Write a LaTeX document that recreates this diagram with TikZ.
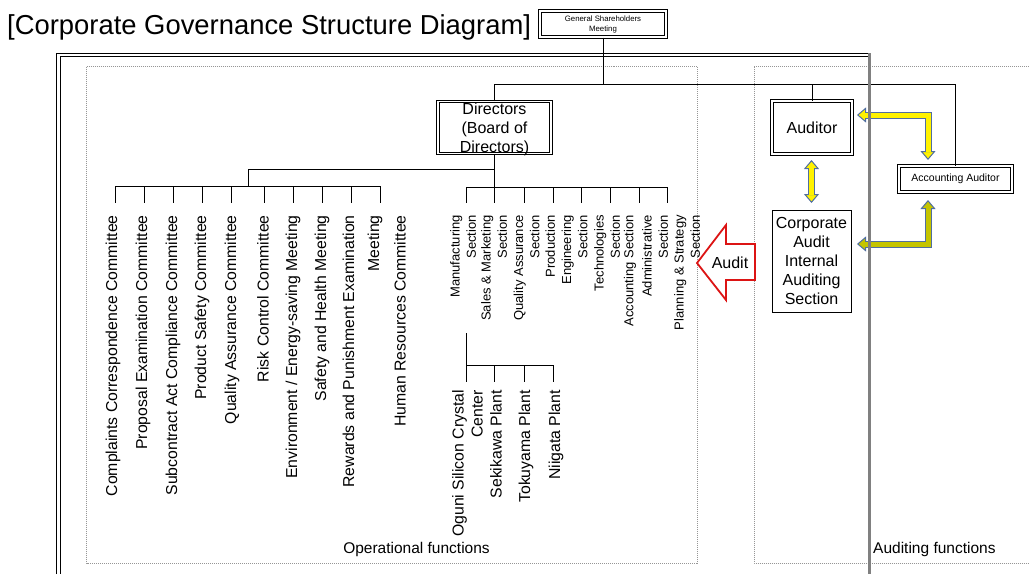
\documentclass[tikz,border=0pt]{standalone}
\usepackage{fontspec}
\setmainfont{Liberation Sans}
\usetikzlibrary{arrows.meta}
\definecolor{arrowedge}{RGB}{80,110,160}
\definecolor{olivefill}{RGB}{196,196,0}
\definecolor{framegray}{RGB}{150,150,150}
\definecolor{auditred}{RGB}{220,20,20}
\begin{document}
\begin{tikzpicture}[x=1pt, y=-1pt,
  dbox/.style={draw, double, double distance=1.5pt, line width=1pt, inner sep=0pt},
  sbox/.style={draw, line width=1pt, inner sep=0pt},
  vtxt/.style={rotate=90, anchor=east, align=right, inner sep=0pt, font=\fontsize{15.8}{19}\selectfont},
  stxt/.style={vtxt, font=\fontsize{13}{16.3}\selectfont},
  conn/.style={line width=0.8pt},
  frame/.style={densely dotted, framegray, line width=1pt},
  yarr/.style={line width=7pt, draw=arrowedge, {Triangle[width=15pt,length=9pt,fill=#1,line width=1pt]}-{Triangle[width=15pt,length=9pt,fill=#1,line width=1pt]}},
  yin/.style={line width=5pt, draw=#1, shorten <=8pt, shorten >=8pt}]
\useasboundingbox (0,0) rectangle (1029,574);
\node[anchor=west, inner sep=0pt, font=\fontsize{27.4}{31}\selectfont] (title) at (7,27) {[Corporate Governance Structure Diagram]};
\node[dbox, minimum width=126, minimum height=26, align=center, font=\fontsize{7.8}{10}\selectfont] (gsm) at (603,24) {General Shareholders\\Meeting};
\draw[double, double distance=2.3pt, line width=0.9pt] (58.5,574) -- (58.5,55) -- (869,55);
\draw[frame] (86.5,66.5) rectangle (697,563);
\draw[frame] (754,66.5) rectangle (1040,563);
\node[dbox, minimum width=113, minimum height=52] (dir) at (494.5,127.5) {};
\node[align=center, inner sep=0pt, font=\fontsize{16}{19}\selectfont] (dirtxt) at (494.5,129) {Directors\\(Board of\\Directors)};
\node[dbox, minimum width=80, minimum height=53, font=\fontsize{16}{19}\selectfont] (aud) at (812,127.5) {Auditor};
\node[sbox, minimum width=79, minimum height=102, align=center, font=\fontsize{16}{19}\selectfont] (ia) at (811.5,261) {Corporate\\Audit\\Internal\\Auditing\\Section};
\node[dbox, minimum width=113, minimum height=26, font=\fontsize{10.5}{12}\selectfont] (acc) at (955.5,179) {Accounting Auditor};
\coordinate (h1) at (494.5,84);
\coordinate (h2) at (955.5,84);
\draw[conn] (dir.north) -- (h1) -- (h2) -- (acc.north);
\draw[conn] (gsm.south) -- (gsm.south |- h1);
\draw[conn] (aud.north) -- (aud.north |- h1);
\coordinate (cj) at (494.5,169);
\coordinate (cm) at (248,169);
\coordinate (cmb) at (248,186);
\draw[conn] (cj) -- (cm) -- (cmb);
\coordinate (ctk) at (0,203);
\coordinate (cb1) at (115,186);
\coordinate (cb2) at (144,186);
\coordinate (cb3) at (173,186);
\coordinate (cb4) at (202,186);
\coordinate (cb5) at (231,186);
\coordinate (cb6) at (264,186);
\coordinate (cb7) at (293,186);
\coordinate (cb8) at (322,186);
\coordinate (cb9) at (351,186);
\coordinate (cb10) at (380,186);
\draw[conn] (cb1) -- (cb10);
\draw[conn] (cb1) -- (cb1 |- ctk);
\draw[conn] (cb2) -- (cb2 |- ctk);
\draw[conn] (cb3) -- (cb3 |- ctk);
\draw[conn] (cb4) -- (cb4 |- ctk);
\draw[conn] (cb5) -- (cb5 |- ctk);
\draw[conn] (cb6) -- (cb6 |- ctk);
\draw[conn] (cb7) -- (cb7 |- ctk);
\draw[conn] (cb8) -- (cb8 |- ctk);
\draw[conn] (cb9) -- (cb9 |- ctk);
\draw[conn] (cb10) -- (cb10 |- ctk);
\node[vtxt] (c1) at (113,215) {Complaints Correspondence Committee};
\node[vtxt] (c2) at (143,215) {Proposal Examination Committee};
\node[vtxt] (c3) at (173,215) {Subcontract Act Compliance Committee};
\node[vtxt] (c4) at (202,215) {Product Safety Committee};
\node[vtxt] (c5) at (232,215) {Quality Assurance Committee};
\node[vtxt] (c6) at (263,215) {Risk Control Committee};
\node[vtxt] (c7) at (293,215) {Environment / Energy-saving Meeting};
\node[vtxt] (c8) at (322,215) {Safety and Health Meeting};
\node[vtxt] (c9) at (362.5,215) {Rewards and Punishment Examination\\[6pt]Meeting};
\node[vtxt] (c10) at (400,215) {Human Resources Committee};
\coordinate (stk) at (0,203);
\coordinate (sb1) at (466,187);
\coordinate (sb2) at (494.5,187);
\coordinate (sb3) at (524,187);
\coordinate (sb4) at (553,187);
\coordinate (sb5) at (581,187);
\coordinate (sb6) at (610,187);
\coordinate (sb7) at (639,187);
\coordinate (sb8) at (667,187);
\draw[conn] (dir.south) -- (sb2);
\draw[conn] (sb1) -- (sb8);
\draw[conn] (sb1) -- (sb1 |- stk);
\draw[conn] (sb2) -- (sb2 |- stk);
\draw[conn] (sb3) -- (sb3 |- stk);
\draw[conn] (sb4) -- (sb4 |- stk);
\draw[conn] (sb5) -- (sb5 |- stk);
\draw[conn] (sb6) -- (sb6 |- stk);
\draw[conn] (sb7) -- (sb7 |- stk);
\draw[conn] (sb8) -- (sb8 |- stk);
\node[stxt] (s1) at (463,215) {Manufacturing\\Section};
\node[stxt] (s2) at (494,215) {Sales \& Marketing\\Section};
\node[stxt] (s3) at (526.5,215) {Quality Assurance\\Section};
\node[stxt] (s4) at (566.5,215) {Production\\Engineering\\Section};
\node[stxt] (s5) at (607,215) {Technologies\\Section};
\node[stxt] (s6) at (630,215) {Accounting Section};
\node[stxt] (s7) at (655,215) {Administrative\\Section};
\node[stxt] (s8) at (687,215) {Planning \& Strategy\\Section};
\coordinate (pv) at (466,333);
\coordinate (ptk) at (0,382);
\coordinate (pb1) at (466,365);
\coordinate (pb2) at (494,365);
\coordinate (pb3) at (524,365);
\coordinate (pb4) at (553,365);
\draw[conn] (pv) -- (pb1);
\draw[conn] (pb1) -- (pb4);
\draw[conn] (pb1) -- (pb1 |- ptk);
\draw[conn] (pb2) -- (pb2 |- ptk);
\draw[conn] (pb3) -- (pb3 |- ptk);
\draw[conn] (pb4) -- (pb4 |- ptk);
\node[vtxt] (p1) at (467.5,390) {Oguni Silicon Crystal\\Center};
\node[vtxt] (p2) at (496,390) {Sekikawa Plant};
\node[vtxt] (p3) at (526,390) {Tokuyama Plant};
\node[vtxt] (p4) at (556,390) {Niigata Plant};
\node[font=\fontsize{15.5}{18}\selectfont, inner sep=0pt] (opf) at (416.5,549) {Operational functions};
\node[anchor=west, font=\fontsize{15.5}{18}\selectfont, inner sep=0pt] (auf) at (873,549) {Auditing functions};
\draw[auditred, line width=1.8pt, fill=white, line join=miter] (755,244) -- (726,244) -- (726,225) -- (697,263) -- (726,300) -- (726,280) -- (755,280) -- cycle;
\node[font=\fontsize{16}{19}\selectfont, inner sep=0pt] (audit) at (730,263) {Audit};
\coordinate (a1) at (811.5,160);
\coordinate (a2) at (811.5,203);
\draw[yarr=yellow] (a1) -- (a2);
\draw[yin=yellow] (a1) -- (a2);
\coordinate (a3) at (857,115);
\coordinate (a4) at (928,115);
\coordinate (a5) at (928,160);
\draw[yarr=yellow] (a3) -- (a4) -- (a5);
\draw[yin=yellow] (a3) -- (a4) -- (a5);
\coordinate (a6) at (857,244);
\coordinate (a7) at (928,244);
\coordinate (a8) at (928,200);
\draw[yarr=olivefill] (a6) -- (a7) -- (a8);
\draw[yin=olivefill] (a6) -- (a7) -- (a8);
\draw[line width=3pt, gray] (869,53) -- (869,574);
\end{tikzpicture}
\end{document}
